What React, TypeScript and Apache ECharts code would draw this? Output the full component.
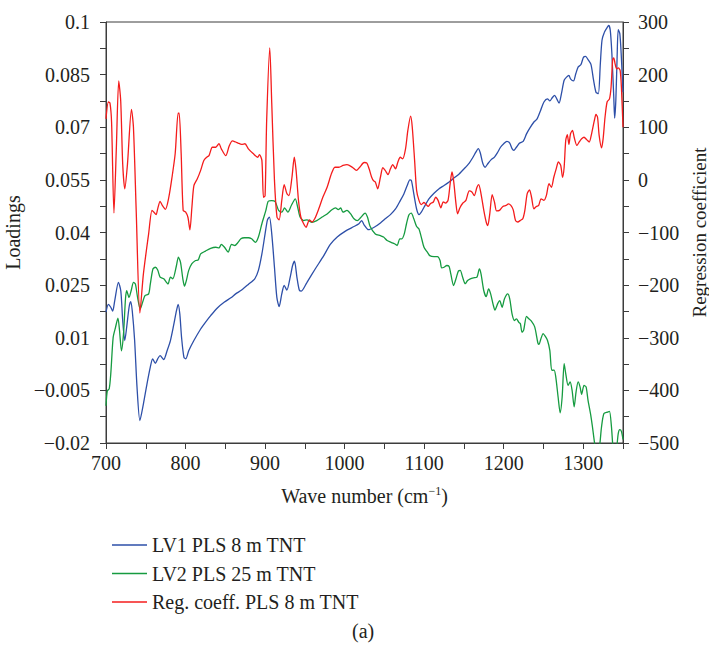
import React, { useEffect, useRef } from "react";
import * as echarts from "echarts";

// ---- data (wavenumber cm^-1, value) ----
const lv1Points: [number, number][] = [
  [700, 0.0173], [703, 0.0195], [706, 0.0187], [708.4, 0.0176], [711, 0.0206], [715.6, 0.0258],
  [718.6, 0.0234], [721, 0.0149], [723.6, 0.0092], [726, 0.013], [729, 0.0187], [731, 0.0203],
  [733, 0.0177], [736, 0.0092], [739, -0.0041], [742.6, -0.0136], [747, -0.0089], [751.5, -0.0032],
  [755.7, 0.0016], [758.6, 0.004], [762, 0.0027], [765, 0.004], [768, 0.0049], [772.6, 0.0038],
  [776.8, 0.0063], [781, 0.0092], [785, 0.0135], [788.6, 0.0177], [790.7, 0.0195], [792.8, 0.0168],
  [795, 0.0101], [798, 0.0044], [800.4, 0.004], [804, 0.0063], [810.5, 0.0092], [819, 0.0125],
  [825, 0.0144], [831.6, 0.0163], [840, 0.0185], [848.5, 0.0201], [857, 0.0214], [863, 0.0225],
  [870.5, 0.0236], [879, 0.0252], [887, 0.0268], [891.6, 0.0292], [896, 0.0339], [900, 0.0396],
  [903, 0.0436], [905.5, 0.0444], [908.4, 0.0396], [911.8, 0.0301], [914.8, 0.0215], [917.7, 0.0189],
  [921, 0.0225], [924, 0.0249], [927.4, 0.0236], [931.6, 0.0273], [934.6, 0.0306], [937, 0.0318],
  [940, 0.0273], [943, 0.0236], [945.6, 0.0233], [952.7, 0.0258], [963, 0.0296], [973.8, 0.0334],
  [982, 0.0366], [990.7, 0.0387], [1001, 0.0404], [1011.8, 0.0417], [1018, 0.0425], [1021.5, 0.0434],
  [1024.5, 0.0422], [1030, 0.0408], [1038.6, 0.0417], [1045, 0.0427], [1051, 0.0439], [1057.6, 0.0451],
  [1064, 0.0467], [1070, 0.0491], [1074.5, 0.051], [1078.7, 0.0534], [1082, 0.055], [1084, 0.0548],
  [1087, 0.051], [1090.5, 0.0467], [1093.5, 0.0451], [1096.4, 0.0458], [1099.8, 0.0472], [1106, 0.0496],
  [1112.4, 0.0512], [1118.8, 0.0525], [1125, 0.0534], [1131.4, 0.0544], [1137.8, 0.0556], [1144, 0.0567],
  [1150.4, 0.0582], [1156.7, 0.0598], [1161, 0.0613], [1165, 0.0629], [1168, 0.0639], [1170.7, 0.0626],
  [1173.6, 0.0598], [1176.6, 0.0586], [1180, 0.0596], [1184, 0.0607], [1188.4, 0.0615], [1191.8, 0.0626],
  [1196, 0.0643], [1200, 0.0653], [1204, 0.066], [1207.6, 0.0655], [1210.5, 0.0639], [1212.7, 0.0634],
  [1216, 0.0643], [1220, 0.0655], [1224.5, 0.066], [1228.7, 0.0681], [1233, 0.0698], [1238, 0.0715],
  [1242, 0.0724], [1246.4, 0.0748], [1250.6, 0.0772], [1255, 0.0781], [1258, 0.0775], [1261, 0.0784],
  [1264, 0.0791], [1266.7, 0.0781], [1269.6, 0.0769], [1272.6, 0.0796], [1276, 0.0834], [1279, 0.0843],
  [1282, 0.0848], [1284, 0.0838], [1287.8, 0.0832], [1290.7, 0.0853], [1293.7, 0.0872], [1297, 0.0878],
  [1300.4, 0.09], [1303, 0.0902], [1306, 0.0893], [1309.7, 0.0879], [1313, 0.0834], [1316, 0.08],
  [1319, 0.0796], [1321.5, 0.0881], [1323.6, 0.0948], [1326.6, 0.0971], [1330, 0.0984], [1332, 0.099],
  [1334, 0.0976], [1336, 0.091], [1338.4, 0.0786], [1339.5, 0.0726], [1341, 0.0777], [1342.6, 0.09],
  [1344, 0.0978], [1346, 0.0967], [1347.7, 0.091], [1350, 0.08],
];

const lv2Points: [number, number][] = [
  [700, -0.0094], [701.7, -0.0051], [704, -0.0046], [706, -0.0003], [709, 0.0101], [712, 0.013],
  [715, 0.0156], [717, 0.0121], [719.4, 0.0063], [722, 0.0111], [724.5, 0.0211], [726, 0.0234],
  [729, 0.0215], [731.6, 0.0234], [734.6, 0.0258], [737, 0.0253], [739.7, 0.0215], [743, 0.0182],
  [746, 0.0201], [749, 0.022], [753.6, 0.0225], [755.7, 0.0253], [759, 0.0296], [762, 0.0301],
  [765, 0.0293], [768, 0.0273], [772.6, 0.0268], [776, 0.0258], [778, 0.0253], [781, 0.0273],
  [784, 0.0268], [788.6, 0.0306], [791, 0.033], [793.7, 0.0315], [796.6, 0.0268], [798.7, 0.0247],
  [801, 0.0263], [804, 0.0292], [808, 0.0311], [812.6, 0.032], [816, 0.0322], [819, 0.0339],
  [825, 0.0347], [831.6, 0.0355], [838, 0.0358], [842, 0.0356], [845, 0.0366], [849, 0.0358],
  [853.6, 0.0344], [857.8, 0.0366], [862, 0.0363], [865.4, 0.037], [869.6, 0.0382], [874, 0.0385],
  [879, 0.0385], [883, 0.0382], [888, 0.0372], [891.6, 0.0387], [896, 0.0425], [901, 0.0463],
  [904, 0.0489], [908.4, 0.0491], [912.7, 0.0488], [917, 0.0463], [921, 0.0458], [924.5, 0.047],
  [928.7, 0.0458], [933, 0.0477], [938, 0.0496], [941, 0.0472], [944, 0.0444], [948.5, 0.0434],
  [952.7, 0.0436], [959, 0.0429], [965, 0.0434], [971.7, 0.0444], [978, 0.0453], [984, 0.0465],
  [988.6, 0.047], [992, 0.0465], [995, 0.047], [998, 0.0458], [1003, 0.0463], [1007.6, 0.0453],
  [1011.8, 0.0439], [1016, 0.0434], [1020, 0.0442], [1025.7, 0.0455], [1028.7, 0.0444], [1032, 0.0418],
  [1038.6, 0.0396], [1045, 0.0391], [1049, 0.0387], [1053.4, 0.0377], [1058.4, 0.0372], [1062.7, 0.0368],
  [1066, 0.0363], [1069.4, 0.0382], [1072, 0.0382], [1075, 0.0396], [1077.8, 0.0425], [1080.8, 0.045],
  [1083.8, 0.0455], [1087, 0.0439], [1090.5, 0.0417], [1093.5, 0.041], [1096.4, 0.0387], [1099.8, 0.0358],
  [1104, 0.0344], [1107, 0.0334], [1112.4, 0.0331], [1116.7, 0.0331], [1120, 0.032], [1122, 0.0299],
  [1125, 0.0301], [1128.5, 0.0306], [1131.4, 0.0303], [1133.5, 0.0282], [1137, 0.0249], [1140, 0.0268],
  [1143, 0.029], [1145.4, 0.0292], [1148.3, 0.0273], [1151.7, 0.0254], [1154.6, 0.0263], [1158, 0.0268],
  [1162, 0.0271], [1166.4, 0.0273], [1169.4, 0.0296], [1171.5, 0.0282], [1175, 0.0234], [1178, 0.0217],
  [1181, 0.0239], [1183.6, 0.0225], [1186.6, 0.0196], [1189, 0.0179], [1192.6, 0.0198], [1195, 0.0206],
  [1198, 0.0187], [1201, 0.0211], [1205, 0.0225], [1207.6, 0.0211], [1210.5, 0.0168], [1213.5, 0.0149],
  [1216, 0.0154], [1219, 0.0144], [1221, 0.014], [1223, 0.0116], [1225, 0.0121], [1228.7, 0.0161],
  [1231.6, 0.0154], [1234.6, 0.0148], [1239, 0.0131], [1243, 0.0085], [1244.5, 0.0081], [1246.5, 0.0095],
  [1249.6, 0.0112], [1252, 0.0105], [1255, 0.0093], [1258, 0.0064], [1260.5, 0.0007], [1263.4, 0.0008],
  [1265.5, -0.0012], [1268.4, -0.0069], [1271, -0.0114], [1273.5, -0.0069], [1276, 0.0026], [1278, -0.0002],
  [1281, -0.0036], [1283.5, -0.0026], [1286, -0.005], [1288.6, -0.0097], [1291, -0.0054], [1293.6, -0.0026],
  [1296, -0.004], [1298, -0.0061], [1301, -0.0036], [1303.6, -0.004], [1306, -0.0078], [1309.5, -0.0121],
  [1311.6, -0.0154], [1314.6, -0.0205], [1317.5, -0.0235], [1320.5, -0.021], [1323, -0.0154], [1326, -0.0116],
  [1330.5, -0.0112], [1333, -0.011], [1335.5, -0.0154], [1337.5, -0.0215], [1340, -0.024], [1342.5, -0.0205],
  [1344, -0.0173], [1346, -0.0162], [1348, -0.0167], [1350, -0.019],
];

const regPoints: [number, number][] = [
  [700, 116], [703, 148], [705, 146], [707, 110], [710, -63], [713, 60], [716, 188], [718.5, 150],
  [721, 30], [723.6, -17], [727, 30], [732, 134], [734.5, 100], [738, -60], [742.6, -253], [747, -179],
  [753.6, -102.5], [757.8, -58], [760, -61], [763, -66], [765, -55], [768, -41], [771, -49], [774.7, -56],
  [779, -33], [783, 5], [787, 50], [790.7, 127], [792, 127], [794.5, 50], [797, -58], [800, -61],
  [803, -71], [805.5, -95], [808, -52], [810.5, -11], [814.8, 2], [819, 18], [823, 37], [826.6, 43],
  [829.5, 46], [833.7, 62], [838, 62], [842, 69], [845, 59], [850.6, 46], [855, 65], [859, 74],
  [863, 72], [866, 70], [870.5, 67.4], [874.7, 68.6], [879, 59], [885, 50], [890.7, 43], [893, 48],
  [896, 37], [898, -33], [900, -30], [902, 113], [905.9, 251], [908.4, 145], [911.8, -1], [915, -71],
  [917.7, -76], [921, -39], [924, -9], [927.4, -26], [930, -30], [933.8, 5], [936.7, 43], [939, 18],
  [942, -39], [945, -71], [948.5, -83.5], [951.5, -90], [955.7, -76], [959, -80], [962.4, -74], [967.5, -55],
  [972.6, -33], [978, -14], [983.5, 12], [987.8, 24], [992.8, 24], [998, 27.4], [1003, 29], [1009.7, 24],
  [1014.8, 18], [1019, 24], [1024.5, 33], [1028, 32], [1030.8, 21], [1034, 5], [1036.5, -2], [1038.6, -4],
  [1041.6, -17], [1045, 5], [1048, 23], [1051, 18], [1054.6, 10], [1057.6, 21], [1060.5, 29], [1064, 21],
  [1067, 34], [1070, 43], [1073, 40], [1076.6, 59], [1079.5, 94], [1083, 121], [1085, 101], [1088, 37],
  [1090.5, -20], [1093.5, -39], [1096.4, -47], [1099.8, -43], [1102.7, -47], [1105, -50.5], [1108, -45], [1111.6, -42],
  [1114.5, -33], [1117.5, -39], [1121, -53], [1124, -42], [1127, -44], [1130, -39], [1132.7, -7], [1135, 15],
  [1137, -1], [1140, -45], [1142, -64.5], [1145, -53], [1148.7, -44], [1152.5, -39], [1156.7, -21], [1160, -23],
  [1163, -30], [1166.4, -14], [1168.6, -9], [1171.5, -26.5], [1175, -58], [1178, -80], [1180, -86.7], [1182.5, -64.5],
  [1185.5, -28], [1188.4, -42], [1191, -59], [1194.7, -58], [1199, -50.5], [1203, -48.6], [1206, -45.5], [1209, -48.6],
  [1212, -57], [1214.8, -77], [1217.7, -80], [1221, -77], [1224, -74], [1226.6, -58], [1229.5, -26.5], [1232.5, -19],
  [1235, -33], [1238, -55], [1241, -50.5], [1244, -48.6], [1247, -36], [1250.6, -39], [1253.6, -30], [1257, -7.4],
  [1260, -14], [1263, 5], [1266, 21], [1268.8, 34], [1271.7, 27.6], [1274, 5], [1276, 24], [1278, 75],
  [1280, 86], [1282, 67.4], [1284, 87.6], [1286.5, 94], [1288.6, 81], [1292, 65.4], [1295, 72], [1298, 78],
  [1301, 81], [1304.6, 76], [1307.6, 72], [1310.5, 87.6], [1314, 113], [1316, 124.4], [1318, 119], [1320, 84.5],
  [1323, 61], [1325, 78], [1327.4, 119], [1330, 148], [1333, 154], [1335, 176], [1337, 228], [1338.4, 232],
  [1340, 221], [1342, 211], [1344, 213], [1346.4, 208], [1348, 176], [1350, 100],
];

const seriesNames = ["LV1 PLS 8 m TNT", "LV2 PLS 25 m TNT", "Reg. coeff. PLS 8 m TNT"];
const seriesColors = ["#2d4fa8", "#169b40", "#f41c1c"];

const xTickValues = [700, 750, 800, 850, 900, 950, 1000, 1050, 1100, 1150, 1200, 1250, 1300, 1350];
const xLabelValues = [700, 800, 900, 1000, 1100, 1200, 1300];
const leftTickValues = [-0.02, -0.0125, -0.005, 0.0025, 0.01, 0.0175, 0.025, 0.0325, 0.04, 0.0475, 0.055, 0.0625, 0.07, 0.0775, 0.085, 0.0925, 0.1];
const leftLabelValues = [-0.02, -0.005, 0.01, 0.025, 0.04, 0.055, 0.07, 0.085, 0.1];
const rightTickValues = [-500, -450, -400, -350, -300, -250, -200, -150, -100, -50, 0, 50, 100, 150, 200, 250, 300];
const rightLabelValues = [-500, -400, -300, -200, -100, 0, 100, 200, 300];

const FONT = '"Liberation Serif", "DejaVu Serif", serif';
const AXIS_COLOR = "#3c3c3c";
const TEXT_COLOR = "#231f20";

function fmt(v: number): string {
  const s = parseFloat(Number(v).toFixed(4)).toString();
  return s.replace("-", "\u2212");
}

export default function App() {
  const ref = useRef<HTMLDivElement>(null);
  useEffect(() => {
    if (!ref.current) return;
    const chart = echarts.init(ref.current, undefined, { renderer: "svg" });
    const axisLine = { show: true, onZero: false, lineStyle: { color: AXIS_COLOR, width: 1 } };
    const tickStyle = { show: true, inside: false, length: 6, lineStyle: { color: AXIS_COLOR, width: 1 } };
    const labelStyle = { color: TEXT_COLOR, fontFamily: FONT, fontSize: 20 };
    const option: any = {
      animation: false,
      backgroundColor: "#ffffff",
      grid: {
        left: 106, right: 86, top: 22, bottom: 205,
        containLabel: false, outerBoundsMode: "none",
        show: true, borderColor: AXIS_COLOR, borderWidth: 1, backgroundColor: "transparent",
      },
      legend: {
        orient: "vertical", left: 107, top: 530,
        icon: "rect", itemWidth: 35, itemHeight: 1.5, itemGap: 8.5, itemTextGap: 10,
        selectedMode: false,
        textStyle: { color: TEXT_COLOR, fontFamily: FONT, fontSize: 20, lineHeight: 20 },
        data: seriesNames,
      },
      graphic: [
        {
          type: "text", left: 352, top: 621,
          style: { text: "(a)", font: `20px ${FONT}`, fill: TEXT_COLOR },
        },
      ],
      xAxis: {
        type: "value", min: 700, max: 1350,
        axisLine, splitLine: { show: false },
        axisTick: { ...tickStyle, customValues: xTickValues },
        axisLabel: { ...labelStyle, margin: 10, customValues: xLabelValues, formatter: (v: number) => String(v) },
        name: "Wave number (cm{sup|\u22121})",
        nameLocation: "middle", nameGap: 42,
        nameTextStyle: {
          ...labelStyle,
          rich: { sup: { fontFamily: FONT, fontSize: 12, verticalAlign: "top", padding: [0, 0, 10, 0], color: TEXT_COLOR } },
        },
      },
      yAxis: [
        {
          type: "value", min: -0.02, max: 0.1, position: "left",
          axisLine, splitLine: { show: false },
          axisTick: { ...tickStyle, customValues: leftTickValues },
          axisLabel: { ...labelStyle, margin: 16, customValues: leftLabelValues, formatter: fmt },
          name: "Loadings", nameLocation: "middle", nameGap: 76, nameRotate: 90,
          nameTextStyle: labelStyle,
        },
        {
          type: "value", min: -500, max: 300, position: "right",
          axisLine, splitLine: { show: false },
          axisTick: { ...tickStyle, customValues: rightTickValues },
          axisLabel: { ...labelStyle, margin: 15, align: "left", customValues: rightLabelValues, formatter: fmt },
          name: "Regression coefficient", nameLocation: "middle", nameGap: 63, nameRotate: 90,
          nameTextStyle: { ...labelStyle, fontSize: 19, lineHeight: 19 },
        },
      ],
      series: [
        { name: seriesNames[0], data: lv1Points, yAxisIndex: 0 },
        { name: seriesNames[1], data: lv2Points, yAxisIndex: 0 },
        { name: seriesNames[2], data: regPoints, yAxisIndex: 1 },
      ].map((s, i) => ({
        ...s,
        type: "line",
        color: seriesColors[i],
        showSymbol: false,
        symbol: "none",
        smooth: 0.25,
        clip: true,
        lineStyle: { color: seriesColors[i], width: 1.3 },
        emphasis: { disabled: true },
      })),
    };
    chart.setOption(option);
    return () => chart.dispose();
  }, []);
  return (
    <div
      ref={ref}
      style={{ position: "fixed", left: 0, top: 0, width: 709, height: 648, background: "#fff" }}
    />
  );
}
